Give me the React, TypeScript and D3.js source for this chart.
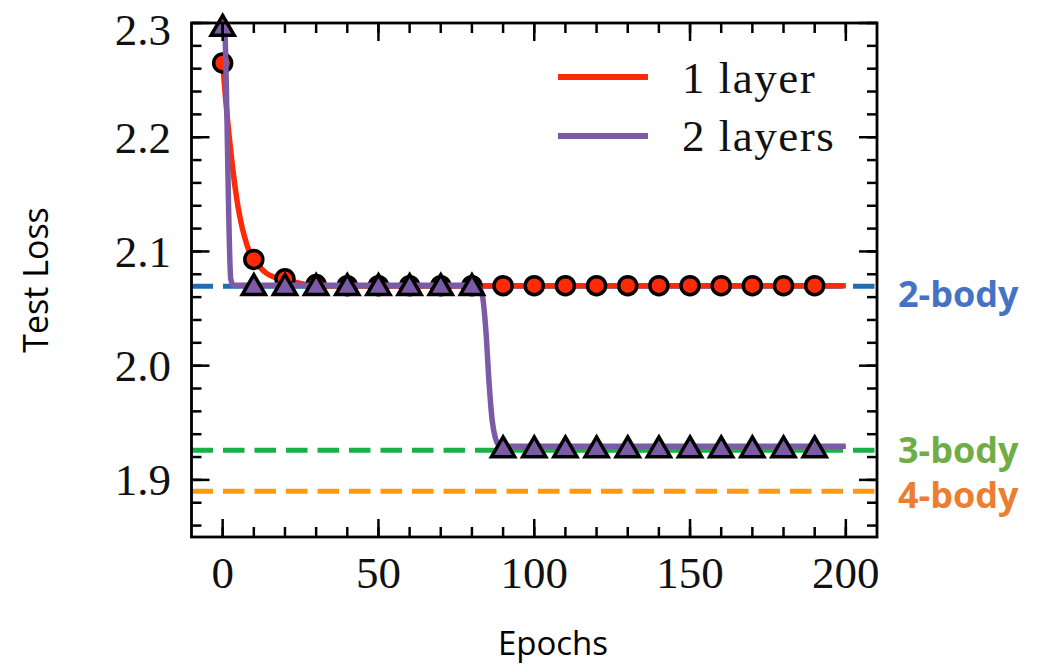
import React from 'react';
import * as d3 from 'd3';

// --- data ---
const markerEpochs = [0, 10, 20, 30, 40, 50, 60, 70, 80, 90, 100, 110, 120, 130, 140, 150, 160, 170, 180, 190];
const oneLayerMarkers = [2.265, 2.093, 2.076, 2.071, 2.07, 2.07, 2.07, 2.07, 2.07, 2.07, 2.07, 2.07, 2.07, 2.07, 2.07, 2.07, 2.07, 2.07, 2.07, 2.07];
const twoLayerMarkers = [2.297, 2.07, 2.07, 2.07, 2.07, 2.07, 2.07, 2.07, 2.07, 1.928, 1.928, 1.928, 1.928, 1.928, 1.928, 1.928, 1.928, 1.928, 1.928, 1.928];

const oneLayerEpochs = [0, 1, 2, 3, 4, 5, 6, 7, 8, 10, 12, 14, 16, 18, 20, 25, 30, 200];
const oneLayerLoss = [2.265, 2.232, 2.203, 2.178, 2.156, 2.138, 2.124, 2.113, 2.104, 2.093, 2.086, 2.081, 2.078, 2.076, 2.075, 2.072, 2.07, 2.07];

const twoLayerEpochs = [0, 0.6, 2.6, 3.4, 80, 82, 83.3, 84.5, 85.5, 86.5, 87.5, 88.5, 90, 200];
const twoLayerLoss = [2.31, 2.3, 2.076, 2.0705, 2.0705, 2.069, 2.062, 2.03, 1.985, 1.952, 1.937, 1.931, 1.9295, 1.9295];

const refNames = ['2-body', '3-body', '4-body'];
const refLoss = [2.0695, 1.926, 1.89];

const xMajorTicks = [0, 50, 100, 150, 200];
const xMinorTicks = d3.range(0, 201, 10);
const yMajorTicks = [1.9, 2.0, 2.1, 2.2, 2.3];
const yMinorTicks = d3.range(1.86, 2.301, 0.02);

const seriesNames = ['1 layer', '2 layers'];

const width = 1042;
const height = 667;
const left = 191.5;
const right = 877;
const top = 23;
const bottom = 537;

const lineColors = ['#ff2b06', '#7c5ba6'];
const refLineColors = ['#1f6db3', '#19b04a', '#ff9a10'];
const refTextColors = ['#4472c4', '#70ad47', '#ed7d31'];

export default function App() {
  const x = d3.scaleLinear().domain([-10, 210]).range([left, right]);
  const y = d3.scaleLinear().domain([1.85, 2.3]).range([bottom, top]);

  const line = d3.line<[number, number]>()
    .x(d => x(d[0]))
    .y(d => y(d[1]))
    .curve(d3.curveMonotoneX);

  const oneLayerPath = line(oneLayerEpochs.map((e, i) => [e, oneLayerLoss[i]]));
  const twoLayerPath = line(twoLayerEpochs.map((e, i) => [e, twoLayerLoss[i]]));

  const serif = '"Liberation Serif", "Times New Roman", serif';
  const sans = '"Open Sans", "Liberation Sans", sans-serif';

  const tri = (cx: number, cy: number) => {
    const s = 11;
    return `M${cx},${cy - s} L${cx + s * 1.05},${cy + s * 0.8} L${cx - s * 1.05},${cy + s * 0.8} Z`;
  };

  return (
    <svg width={width} height={height} style={{ position: 'absolute', left: 0, top: 0, background: '#fff' }}>
      <defs>
        <clipPath id="plot-clip">
          <rect x={left} y={top} width={right - left} height={bottom - top} />
        </clipPath>
      </defs>

      {/* reference dashed lines */}
      <g clipPath="url(#plot-clip)">
        {refLoss.map((v, i) => (
          <line
            key={refNames[i]}
            x1={left}
            x2={right}
            y1={y(v)}
            y2={y(v)}
            stroke={refLineColors[i]}
            strokeWidth={5}
            strokeDasharray="21.5 10"
          />
        ))}
      </g>

      {/* 1 layer */}
      <path d={oneLayerPath} fill="none" stroke={lineColors[0]} strokeWidth={5.5} clipPath="url(#plot-clip)" />
      {markerEpochs.map((e, i) => (
        <circle key={'c' + e} cx={x(e)} cy={y(oneLayerMarkers[i])} r={9} fill={lineColors[0]} stroke="#000" strokeWidth={3.5} />
      ))}

      {/* 2 layers */}
      <path d={twoLayerPath} fill="none" stroke={lineColors[1]} strokeWidth={5.5} clipPath="url(#plot-clip)" />
      {markerEpochs.map((e, i) => (
        <path key={'t' + e} d={tri(x(e), y(twoLayerMarkers[i]))} fill={lineColors[1]} stroke="#000" strokeWidth={3.5} strokeLinejoin="miter" />
      ))}

      {/* ticks, all four sides, pointing in */}
      <g stroke="#000" strokeWidth={2.5}>
        {xMinorTicks.map(t => (
          <g key={'xm' + t}>
            <line x1={x(t)} x2={x(t)} y1={bottom} y2={bottom - 10} />
            <line x1={x(t)} x2={x(t)} y1={top} y2={top + 10} />
          </g>
        ))}
        {xMajorTicks.map(t => (
          <g key={'xM' + t}>
            <line x1={x(t)} x2={x(t)} y1={bottom} y2={bottom - 18} />
            <line x1={x(t)} x2={x(t)} y1={top} y2={top + 18} />
          </g>
        ))}
        {yMinorTicks.map(t => (
          <g key={'ym' + t.toFixed(2)}>
            <line x1={left} x2={left + 10} y1={y(t)} y2={y(t)} />
            <line x1={right} x2={right - 10} y1={y(t)} y2={y(t)} />
          </g>
        ))}
        {yMajorTicks.map(t => (
          <g key={'yM' + t}>
            <line x1={left} x2={left + 18} y1={y(t)} y2={y(t)} />
            <line x1={right} x2={right - 18} y1={y(t)} y2={y(t)} />
          </g>
        ))}
      </g>

      {/* frame */}
      <rect x={left} y={top} width={right - left} height={bottom - top} fill="none" stroke="#000" strokeWidth={2.8} />

      {/* tick labels */}
      {xMajorTicks.map(t => (
        <text key={'xl' + t} x={x(t)} y={588} textAnchor="middle" fontFamily={serif} fontSize={45} fill="#111">
          {t}
        </text>
      ))}
      {yMajorTicks.map(t => (
        <text key={'yl' + t} x={171} y={Math.max(y(t), 30)} dy="0.34em" textAnchor="end" fontFamily={serif} fontSize={45} fill="#111">
          {t.toFixed(1)}
        </text>
      ))}

      {/* legend */}
      {seriesNames.map((name, i) => (
        <g key={name}>
          <line x1={558} x2={648} y1={77 + i * 59} y2={77 + i * 59} stroke={lineColors[i]} strokeWidth={6} />
          <text x={682} y={92.5 + i * 58} fontFamily={serif} fontSize={45} letterSpacing={1.5} fill="#111">
            {name}
          </text>
        </g>
      ))}

      {/* reference labels */}
      {refNames.map((name, i) => (
        <text
          key={'rl' + name}
          x={898}
          y={[307, 463, 508][i]}
          fontFamily={sans}
          fontWeight={700}
          fontSize={36}
          fill={refTextColors[i]}
        >
          {name}
        </text>
      ))}

      {/* axis titles */}
      <text x={553} y={655} textAnchor="middle" fontFamily={sans} fontSize={33} fill="#000">
        Epochs
      </text>
      <text
        transform={`translate(48, 280) rotate(-90)`}
        textAnchor="middle"
        fontFamily={sans}
        fontSize={34}
        fill="#000"
      >
        Test Loss
      </text>
    </svg>
  );
}
